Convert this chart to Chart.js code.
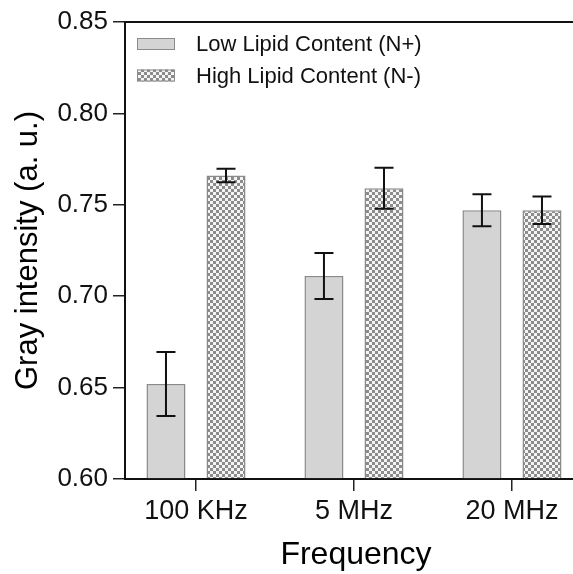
<!DOCTYPE html>
<html>
<head>
<meta charset="utf-8">
<script src="https://cdn.jsdelivr.net/npm/chart.js@4.4.1/dist/chart.umd.min.js"></script>
<style>
    html, body { margin: 0; padding: 0; background: #fff; }
    #wrap { position: relative; width: 573px; height: 574px; overflow: hidden; }
</style>
</head>
<body>
<div id="wrap"><canvas id="chart" width="587" height="574"></canvas></div>
<script>
// values
const categories = ['100 KHz', '5 MHz', '20 MHz'];
const lowLipid = [0.652, 0.711, 0.747];
const lowLipidErr = [0.0175, 0.0126, 0.0088];
const highLipid = [0.766, 0.759, 0.747];
const highLipidErr = [0.0037, 0.0112, 0.0075];
const yTicks = [0.60, 0.65, 0.70, 0.75, 0.80, 0.85];

const FONT = '"Liberation Sans", Arial, Helvetica, sans-serif';

function checkerPattern() {
    const c = document.createElement('canvas');
    c.width = 6;
    c.height = 6;
    const g = c.getContext('2d');
    g.fillStyle = '#f4f4f4';
    g.fillRect(0, 0, 6, 6);
    g.fillStyle = '#8c8c8c';
    g.fillRect(0, 0, 3, 3);
    g.fillRect(3, 3, 3, 3);
    return g.createPattern(c, 'repeat');
}

const toPoints = (list) => list.map((v, i) => ({x: i, y: v}));

const errorBars = {
    id: 'errorBars',
    afterDatasetsDraw(chart) {
        const ctx = chart.ctx;
        const yScale = chart.scales.y;
        const errs = [lowLipidErr, highLipidErr];
        ctx.save();
        ctx.strokeStyle = '#111';
        ctx.lineWidth = 2;
        chart.data.datasets.forEach((ds, di) => {
            const meta = chart.getDatasetMeta(di);
            meta.data.forEach((bar, i) => {
                const v = ds.data[i].y;
                const top = yScale.getPixelForValue(v + errs[di][i]);
                const bot = yScale.getPixelForValue(v - errs[di][i]);
                const half = 9.5;
                ctx.beginPath();
                ctx.moveTo(bar.x, top);
                ctx.lineTo(bar.x, bot);
                ctx.moveTo(bar.x - half, top);
                ctx.lineTo(bar.x + half, top);
                ctx.moveTo(bar.x - half, bot);
                ctx.lineTo(bar.x + half, bot);
                ctx.stroke();
            });
        });
        ctx.restore();
    }
};

// legend inside the plot, top-left, like the original figure
const insideLegend = {
    id: 'insideLegend',
    afterDraw(chart) {
        const ctx = chart.ctx;
        const area = chart.chartArea;
        ctx.save();
        ctx.font = '22px ' + FONT;
        ctx.textBaseline = 'middle';
        ctx.fillStyle = '#111';
        chart.data.datasets.forEach((ds, i) => {
            const x = area.left + 12;
            const y = area.top + 16 + i * 31.5;
            ctx.fillStyle = ds.backgroundColor;
            ctx.fillRect(x, y, 38, 12);
            ctx.strokeStyle = ds.borderColor;
            ctx.lineWidth = 1;
            ctx.strokeRect(x + 0.5, y + 0.5, 37, 11);
            ctx.fillStyle = '#111';
            ctx.fillText(ds.label, x + 59, y + 7);
        });
        ctx.restore();
    }
};

Chart.defaults.color = '#000';
Chart.defaults.font.family = FONT;

new Chart(document.getElementById('chart'), {
    type: 'bar',
    data: {
        datasets: [
            {
                label: 'Low Lipid Content (N+)',
                data: toPoints(lowLipid),
                backgroundColor: '#d4d4d4',
                borderColor: '#8a8a8a',
                borderWidth: 1.5,
                base: 0.6
            },
            {
                label: 'High Lipid Content (N-)',
                data: toPoints(highLipid),
                backgroundColor: checkerPattern(),
                borderColor: '#8a8a8a',
                borderWidth: 1.5,
                base: 0.6
            }
        ]
    },
    options: {
        responsive: false,
        animation: false,
        layout: { padding: 0 },
        datasets: {
            bar: {
                categoryPercentage: 0.76,
                barPercentage: 0.65
            }
        },
        scales: {
            x: {
                type: 'linear',
                position: 'bottom',
                min: -0.4494,
                max: 2.475,
                offset: false,
                afterBuildTicks(scale) {
                    scale.ticks = categories.map((c, i) => ({value: i}));
                },
                afterFit(scale) {
                    scale.height = 95;
                },
                ticks: {
                    autoSkip: false,
                    maxRotation: 0,
                    padding: 4,
                    color: '#111',
                    font: { size: 27 },
                    callback: (v) => categories[v]
                },
                grid: {
                    offset: false,
                    drawOnChartArea: false,
                    tickLength: 12,
                    color: '#222',
                    lineWidth: 1.5
                },
                border: { color: '#111', width: 2 },
                title: {
                    display: true,
                    text: 'Frequency',
                    font: { size: 32 },
                    padding: 0
                }
            },
            x2: {
                type: 'linear',
                axis: 'x',
                position: 'top',
                ticks: { display: false },
                grid: { display: false, drawTicks: false },
                border: { display: true, color: '#111', width: 2 },
                afterFit(scale) {
                    scale.height = 22;
                }
            },
            y: {
                min: 0.6,
                max: 0.85,
                afterBuildTicks(scale) {
                    scale.ticks = yTicks.map((v) => ({value: v}));
                },
                afterFit(scale) {
                    scale.width = 125;
                },
                ticks: {
                    padding: 5,
                    color: '#111',
                    font: { size: 26 },
                    callback: (v) => Number(v).toFixed(2)
                },
                grid: {
                    drawOnChartArea: false,
                    tickLength: 12,
                    color: '#222',
                    lineWidth: 1.5
                },
                border: { color: '#111', width: 2 },
                title: {
                    display: true,
                    text: 'Gray intensity (a. u.)',
                    font: { size: 31 },
                    padding: { top: 10, bottom: 0 }
                }
            }
        },
        plugins: {
            legend: { display: false },
            tooltip: { enabled: false }
        }
    },
    plugins: [errorBars, insideLegend]
});
</script>
</body>
</html>
